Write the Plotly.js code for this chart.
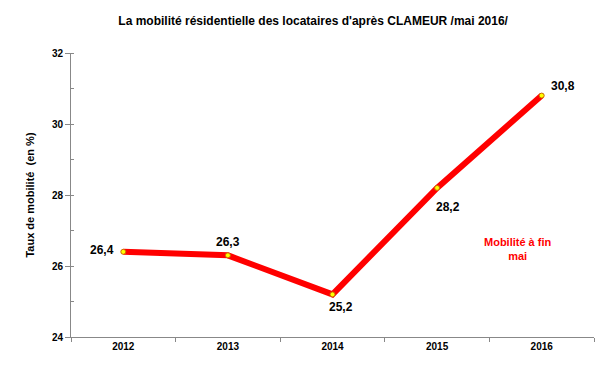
<!DOCTYPE html>
<html>
<head>
<meta charset="utf-8">
<script src="https://cdn.plot.ly/plotly-3.0.1.min.js"></script>
<style>html,body{margin:0;padding:0;background:#fff;}#chart{width:614px;height:371px;}</style>
</head>
<body>
<div id="chart"></div>
<script>
var years = ['2012', '2013', '2014', '2015', '2016'];
var mobilite = [26.4, 26.3, 25.2, 28.2, 30.8];
var seriesName = 'Mobilité à fin<br>mai';
var titleText = "La mobilité résidentielle des locataires d'après CLAMEUR /mai 2016/";
var yTitle = 'Taux de mobilité  (en %)';

// label offsets in pixels relative to each point
var labelShiftX = [-21, 0, 8, 11, 21];
var labelShiftY = [2, 13, -13, -19, 10];

var FONT = 'Liberation Sans, Arial, sans-serif';

var trace = {
  x: years,
  y: mobilite,
  type: 'scatter',
  mode: 'lines+markers',
  line: {color: '#ff0000', width: 6},
  marker: {size: 5, color: '#ffff00', line: {color: '#cc6600', width: 1}},
  cliponaxis: false,
  showlegend: false,
  hoverinfo: 'skip'
};

var annotations = years.map(function (yr, i) {
  return {
    x: years.indexOf(yr), y: mobilite[i], xref: 'x', yref: 'y',
    text: mobilite[i].toFixed(1).replace('.', ','),
    showarrow: false,
    xanchor: 'center', yanchor: 'middle',
    xshift: labelShiftX[i], yshift: labelShiftY[i],
    font: {family: FONT, size: 12, color: '#000', weight: 'bold'}
  };
});
annotations.push({
  xref: 'paper', yref: 'paper',
  x: 0.855, y: 0.31,
  xanchor: 'center', yanchor: 'middle',
  text: seriesName,
  showarrow: false,
  align: 'center',
  font: {family: FONT, size: 11, color: '#ff0000', weight: 'bold'}
});

var layout = {
  width: 614,
  height: 371,
  paper_bgcolor: '#fff',
  plot_bgcolor: '#fff',
  margin: {l: 71, r: 20, t: 53, b: 34},
  font: {family: FONT, color: '#000'},
  title: {
    text: titleText,
    font: {family: FONT, size: 12, color: '#000', weight: 'bold'},
    x: 0.51, xanchor: 'center', y: 0.945, yanchor: 'middle'
  },
  xaxis: {
    type: 'category',
    range: [-0.5, 4.5],
    tickson: 'boundaries',
    ticks: 'outside',
    ticklen: 4,
    tickcolor: '#888',
    showline: true,
    linecolor: '#888',
    linewidth: 1,
    showgrid: false,
    zeroline: false,
    tickfont: {family: FONT, size: 10, color: '#000', weight: 'bold'}
  },
  yaxis: {
    range: [24, 32],
    dtick: 2,
    tick0: 24,
    ticks: 'outside',
    ticklen: 5,
    tickcolor: '#888',
    showline: true,
    linecolor: '#888',
    linewidth: 1,
    showgrid: false,
    zeroline: false,
    minor: {dtick: 1, ticks: 'inside', ticklen: 3, tickcolor: '#888', showgrid: false},
    tickfont: {family: FONT, size: 10, color: '#000', weight: 'bold'},
    title: {text: yTitle, font: {family: FONT, size: 11, color: '#000', weight: 'bold'}, standoff: 15}
  },
  annotations: annotations
};

Plotly.newPlot('chart', [trace], layout, {staticPlot: true, displayModeBar: false});
</script>
</body>
</html>
